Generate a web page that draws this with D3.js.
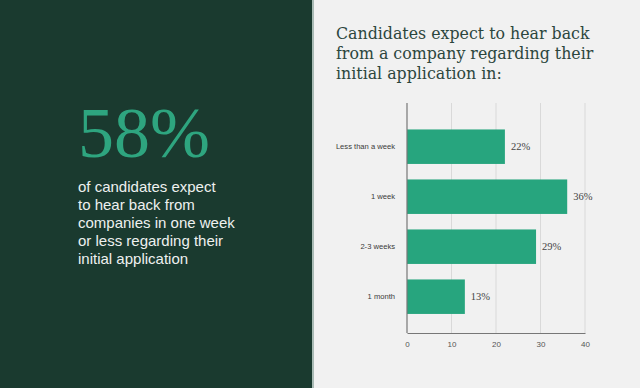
<!DOCTYPE html>
<html>
<head>
<meta charset="utf-8">
<script src="https://cdn.jsdelivr.net/npm/d3@7"></script>
<style>
  html, body { margin: 0; padding: 0; background: #f1f1f1; }
  svg { display: block; }
</style>
</head>
<body>
<script>
// data
const categories = ['Less than a week', '1 week', '2-3 weeks', '1 month']
const values = [22, 36, 29, 13]
const xTicks = [0, 10, 20, 30, 40]
const titleLines = ['Candidates expect to hear back', 'from a company regarding their', 'initial application in:']
const bigStat = '58%'
const statLines = ['of candidates expect', 'to hear back from', 'companies in one week', 'or less regarding their', 'initial application']

const W = 640, H = 388
const svg = d3.select('body').append('svg').attr('width', W).attr('height', H)

// left panel
svg.append('rect').attr('x', 0).attr('y', 0).attr('width', 312).attr('height', H).attr('fill', '#1a3a2f')
svg.append('rect').attr('x', 312).attr('y', 0).attr('width', 2).attr('height', H).attr('fill', '#a9bbb5')

svg.append('text')
  .attr('x', 78).attr('y', 157)
  .attr('font-family', '"Liberation Serif", serif')
  .attr('font-size', 72)
  .attr('fill', '#2ea57f')
  .text(bigStat)

svg.append('g').selectAll('text')
  .data(statLines)
  .join('text')
    .attr('x', 78)
    .attr('y', (d, i) => 192 + i * 17.9)
    .attr('font-family', '"Liberation Sans", Arial, sans-serif')
    .attr('font-size', 15)
    .attr('fill', '#eef1ef')
    .text(d => d)

// title
svg.append('g').selectAll('text')
  .data(titleLines)
  .join('text')
    .attr('x', 336)
    .attr('y', (d, i) => 39 + i * 19.8)
    .attr('font-family', '"DejaVu Serif", serif')
    .attr('font-size', 15.8)
    .attr('fill', '#2c463d')
    .text(d => d)

// chart
const plotTop = 103, plotBottom = 333
const x = d3.scaleLinear().domain([0, 40]).range([407, 585])
const y = d3.scaleBand().domain(categories).range([121.7, 321.7]).paddingInner(0.31).paddingOuter(0.155)

const chart = svg.append('g')

// gridlines
chart.append('g').selectAll('line')
  .data(xTicks.slice(1))
  .join('line')
    .attr('x1', d => x(d)).attr('x2', d => x(d))
    .attr('y1', plotTop).attr('y2', plotBottom)
    .attr('stroke', '#d9d9d9').attr('stroke-width', 1)

// bars
chart.append('g').selectAll('rect')
  .data(categories)
  .join('rect')
    .attr('x', x(0))
    .attr('y', d => y(d))
    .attr('width', (d, i) => x(values[i]) - x(0))
    .attr('height', y.bandwidth())
    .attr('fill', '#27a57e')

// value labels
chart.append('g').selectAll('text')
  .data(categories)
  .join('text')
    .attr('x', (d, i) => x(values[i]) + 6)
    .attr('y', d => y(d) + y.bandwidth() / 2 + 3.5)
    .attr('font-family', '"Liberation Serif", serif')
    .attr('font-size', 10.5)
    .attr('fill', '#444')
    .text((d, i) => values[i] + '%')

// x axis
const xAxis = chart.append('g')
  .attr('transform', `translate(0,${plotBottom})`)
  .call(d3.axisBottom(x).tickValues(xTicks).tickSize(0).tickPadding(8))
xAxis.select('.domain').attr('stroke', '#777').attr('stroke-width', 1.2)
xAxis.selectAll('text')
  .attr('font-family', '"Liberation Sans", Arial, sans-serif')
  .attr('font-size', 8)
  .attr('fill', '#555')

// y axis
const yAxis = chart.append('g')
  .attr('transform', `translate(${x(0)},0)`)
  .call(d3.axisLeft(y).tickSize(0).tickPadding(12))
yAxis.select('.domain').attr('d', `M0,${plotTop}V${plotBottom}`).attr('stroke', '#777').attr('stroke-width', 1.2)
yAxis.selectAll('text')
  .attr('font-family', '"Liberation Sans", Arial, sans-serif')
  .attr('font-size', 7.6)
  .attr('fill', '#3a3a3a')
</script>
</body>
</html>
